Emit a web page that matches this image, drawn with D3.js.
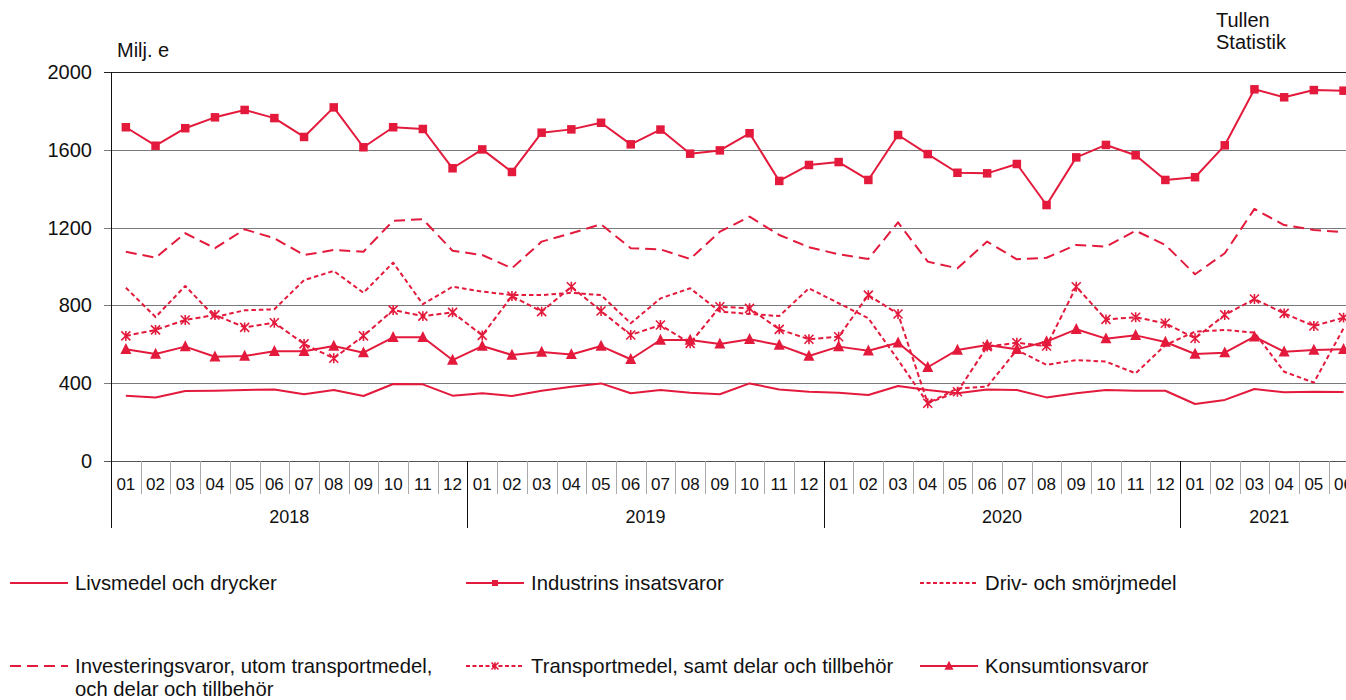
<!DOCTYPE html>
<html>
<head>
<meta charset="utf-8">
<script src="https://cdn.jsdelivr.net/npm/d3@7"></script>
<style>
  html, body { margin: 0; padding: 0; background: #fff; }
  svg { display: block; font-family: "Liberation Sans", Arial, sans-serif; }
</style>
</head>
<body>
<svg id="chart" width="1346" height="700"></svg>
<script>
const years = ["2018", "2019", "2020", "2021"];
const monthsPerYear = [12, 12, 12, 6];
const monthLabels = ["01","02","03","04","05","06","07","08","09","10","11","12"];
const yTicks = [0, 400, 800, 1200, 1600, 2000];

const seriesNames = [
  "Livsmedel och drycker",
  "Industrins insatsvaror",
  "Driv- och smörjmedel",
  "Investeringsvaror, utom transportmedel, och delar och tillbehör",
  "Transportmedel, samt delar och tillbehör",
  "Konsumtionsvaror"
];

const livsmedel = [336,327,360,361,365,368,343,365,334,396,394,336,
                   348,334,361,382,399,348,365,351,343,399,368,356,
                   351,339,386,365,348,368,365,327,348,365,361,361,
                   293,314,370,353,356,355];
const industrins = [1716,1621,1711,1767,1805,1763,1666,1818,1613,1716,1707,1505,
                    1602,1486,1688,1705,1739,1628,1704,1580,1597,1685,1440,1522,
                    1537,1445,1676,1578,1482,1479,1527,1316,1561,1625,1572,1445,
                    1459,1623,1911,1870,1907,1904];
const driv = [891,740,900,740,775,780,930,977,865,1020,806,896,
              871,853,853,865,853,708,836,888,768,756,745,888,
              811,734,520,297,373,382,571,494,519,511,451,596,
              665,674,660,459,403,682];
const invest = [1076,1045,1171,1094,1191,1145,1059,1085,1076,1235,1243,1081,
                1059,991,1128,1171,1217,1094,1088,1039,1179,1256,1162,1099,
                1063,1039,1227,1025,991,1128,1037,1045,1111,1102,1184,1111,
                960,1068,1296,1213,1188,1176];
const transport = [643,674,725,751,687,711,602,528,643,776,745,764,
                   646,848,768,896,771,648,699,605,793,785,677,626,
                   639,853,756,297,356,588,608,591,896,728,739,708,
                   631,751,833,759,694,737];
const konsum = [574,550,588,536,540,564,564,591,557,636,636,519,
                591,545,560,548,591,523,622,622,602,626,596,540,
                588,567,608,482,571,596,574,614,677,629,646,612,
                550,557,639,562,571,574];

const RED = "#e31a3c";

// build period list
const periods = [];
years.forEach((yr, yi) => {
  for (let m = 0; m < monthsPerYear[yi]; m++) periods.push({ key: yr + "-" + monthLabels[m], year: yr, month: monthLabels[m] });
});

const svg = d3.select("#chart");
const plotLeft = 111, plotTop = 72, plotBottom = 461;
const step = 29.7;
const x = d3.scaleBand().domain(periods.map(p => p.key)).range([plotLeft, plotLeft + step * periods.length]).padding(0);
const y = d3.scaleLinear().domain([0, 2000]).range([plotBottom, plotTop]);

// gridlines
const grid = svg.append("g");
yTicks.forEach(t => {
  grid.append("line")
    .attr("x1", plotLeft - 7).attr("x2", 1346)
    .attr("y1", Math.round(y(t)) + 0.5).attr("y2", Math.round(y(t)) + 0.5)
    .attr("stroke", t === 2000 ? "#222" : (t === 0 ? "#555" : "#7a7a7a"))
    .attr("stroke-width", 1);
});

// y-axis labels
const yAxis = d3.axisLeft(y).tickValues(yTicks).tickSize(0).tickPadding(0).tickFormat(d3.format("d"));
const ya = svg.append("g").attr("transform", `translate(${plotLeft - 19},0)`).call(yAxis);
ya.select(".domain").remove();
ya.selectAll("text").attr("font-size", 20).attr("fill", "#111").attr("font-family", "Liberation Sans, Arial, sans-serif");

// y-axis line
svg.append("line").attr("x1", plotLeft + 0.5).attr("x2", plotLeft + 0.5).attr("y1", plotTop).attr("y2", 528)
  .attr("stroke", "#111").attr("stroke-width", 1);

// month separators and labels
const xa = svg.append("g");
periods.forEach((p, i) => {
  const x0 = x(p.key);
  if (i > 0 && p.month !== "01") {
    xa.append("line").attr("x1", Math.round(x0) + 0.5).attr("x2", Math.round(x0) + 0.5)
      .attr("y1", plotBottom).attr("y2", 494).attr("stroke", "#aaa").attr("stroke-width", 1);
  }
  xa.append("text").attr("x", x0 + x.bandwidth() / 2).attr("y", 489.5)
    .attr("text-anchor", "middle").attr("font-size", 17).attr("fill", "#111").text(p.month);
});
// year separators and labels
let idx = 0;
years.forEach((yr, yi) => {
  const first = periods[idx].key;
  const last = periods[idx + monthsPerYear[yi] - 1].key;
  const x0 = x(first), x1 = x(last) + x.bandwidth();
  if (yi > 0) {
    xa.append("line").attr("x1", Math.round(x0) + 0.5).attr("x2", Math.round(x0) + 0.5)
      .attr("y1", plotBottom).attr("y2", 528).attr("stroke", "#111").attr("stroke-width", 1);
  }
  xa.append("text").attr("x", (x0 + x1) / 2).attr("y", 523)
    .attr("text-anchor", "middle").attr("font-size", 18).attr("fill", "#111").text(yr);
  idx += monthsPerYear[yi];
});

// titles
svg.append("text").attr("x", 117).attr("y", 57).attr("font-size", 20).attr("fill", "#111").text("Milj. e");
svg.append("text").attr("x", 1216).attr("y", 27).attr("font-size", 20).attr("fill", "#111").text("Tullen");
svg.append("text").attr("x", 1216).attr("y", 49).attr("font-size", 20).attr("fill", "#111").text("Statistik");

// series definitions
const series = [
  { name: seriesNames[0], values: livsmedel, dash: null, marker: null },
  { name: seriesNames[3], values: invest, dash: "11,6", marker: null },
  { name: seriesNames[2], values: driv, dash: "4.5,3", marker: null },
  { name: seriesNames[4], values: transport, dash: "5,3", marker: "star" },
  { name: seriesNames[5], values: konsum, dash: null, marker: "triangle" },
  { name: seriesNames[1], values: industrins, dash: null, marker: "square" }
];

const line = d3.line()
  .x((d, i) => x(periods[i].key) + x.bandwidth() / 2)
  .y(d => y(d));

function drawMarker(g, type, cx, cy, s) {
  if (type === "square") {
    g.append("rect").attr("x", cx - s / 2).attr("y", cy - s / 2).attr("width", s).attr("height", s).attr("fill", RED);
  } else if (type === "triangle") {
    const h = s * 0.95;
    g.append("path").attr("d", `M${cx},${cy - h * 0.6}L${cx + s / 2},${cy + h * 0.45}L${cx - s / 2},${cy + h * 0.45}Z`).attr("fill", RED);
  } else if (type === "star") {
    const r = s / 2;
    g.append("path").attr("d",
      `M${cx - r},${cy - r}L${cx + r},${cy + r}M${cx - r},${cy + r}L${cx + r},${cy - r}M${cx},${cy - r * 1.1}L${cx},${cy + r * 1.1}`)
      .attr("stroke", RED).attr("stroke-width", 1.6).attr("fill", "none");
  }
}

const plot = svg.append("g");
series.forEach(s => {
  plot.append("path").datum(s.values).attr("d", line)
    .attr("fill", "none").attr("stroke", RED).attr("stroke-width", 2)
    .attr("stroke-dasharray", s.dash).attr("stroke-linejoin", "round");
  if (s.marker) {
    const mg = plot.append("g");
    const size = s.marker === "square" ? 8.5 : (s.marker === "triangle" ? 11 : 9);
    s.values.forEach((v, i) => drawMarker(mg, s.marker, x(periods[i].key) + x.bandwidth() / 2, y(v), size));
  }
});

// legend
const legendItems = [
  { label: ["Livsmedel och drycker"], dash: null, marker: null, lx: 10, ly: 583 },
  { label: ["Industrins insatsvaror"], dash: null, marker: "square", lx: 466, ly: 583 },
  { label: ["Driv- och smörjmedel"], dash: "4,2.5", marker: null, lx: 920, ly: 583 },
  { label: ["Investeringsvaror, utom transportmedel,", "och delar och tillbehör"], dash: "11,6", marker: null, lx: 10, ly: 666 },
  { label: ["Transportmedel, samt delar och tillbehör"], dash: "4,2.5", marker: "star", lx: 466, ly: 666 },
  { label: ["Konsumtionsvaror"], dash: null, marker: "triangle", lx: 920, ly: 666 }
];
const lg = svg.append("g");
legendItems.forEach(it => {
  lg.append("line").attr("x1", it.lx).attr("x2", it.lx + 58).attr("y1", it.ly).attr("y2", it.ly)
    .attr("stroke", RED).attr("stroke-width", 2).attr("stroke-dasharray", it.dash);
  if (it.marker) drawMarker(lg, it.marker, it.lx + 29, it.ly, it.marker === "square" ? 6 : (it.marker === "triangle" ? 9 : 7));
  it.label.forEach((t, k) => {
    lg.append("text").attr("x", it.lx + 65).attr("y", it.ly + 7 + k * 23)
      .attr("font-size", 20.3).attr("fill", "#111").text(t);
  });
});
</script>
</body>
</html>
